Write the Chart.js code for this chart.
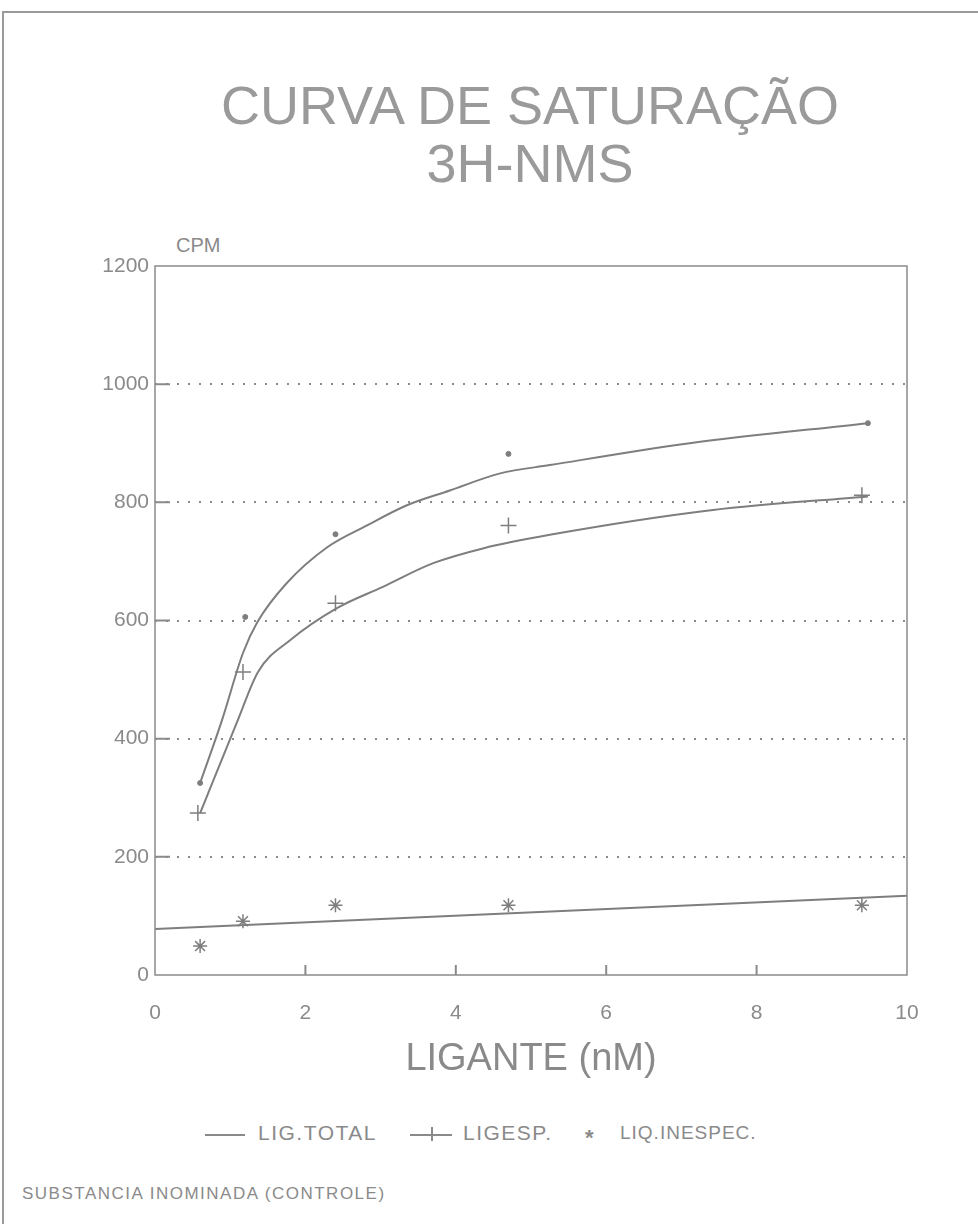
<!DOCTYPE html>
<html>
<head>
<meta charset="utf-8">
<script src="https://cdn.jsdelivr.net/npm/chart.js@4.4.0/dist/chart.umd.min.js"></script>
<style>
  body { margin: 0; background: #fff; font-family: 'Liberation Sans', Arial, sans-serif; color: #8a8a8a; }
  #page { position: relative; width: 978px; height: 1226px; overflow: hidden; }
  #frame { position: absolute; left: 2px; top: 11px; width: 990px; height: 1211px; border-left: 2px solid #9a9a9a; border-top: 2px solid #9a9a9a; }
  #title { position: absolute; left: 130px; width: 800px; top: 76px; text-align: center; font-size: 54px; line-height: 58px; color: #9a9a9a; }
  #cpm { position: absolute; left: 176px; top: 234px; font-size: 20px; color: #8a8a8a; }
  #plot-id { position: absolute; left: 0; top: 0; }
  #legend { position: absolute; top: 1121px; left: 0; width: 978px; font-size: 21px; color: #8a8a8a; }
  #legend span { position: absolute; white-space: nowrap; letter-spacing: 1.5px; }
  .sample { position: absolute; height: 0; border-top: 2px solid #8a8a8a; }
  #footer { position: absolute; left: 22px; top: 1184px; font-size: 17px; letter-spacing: 1.5px; color: #8a8a8a; }
</style>
</head>
<body>
<div id="page">
  <div id="frame"></div>
  <div id="title">CURVA DE SATURAÇÃO<br>3H-NMS</div>
  <div id="cpm">CPM</div>
  <canvas id="plot-id" width="978" height="1084"></canvas>
  <div id="legend">
    <div class="sample" style="left:205px; width:40px; top:13px;"></div>
    <span style="left:258px;">LIG.TOTAL</span>
    <div class="sample" style="left:410px; width:42px; top:13px;"></div>
    <div class="sample" style="left:431px; width:0; height:14px; top:6px; border-top:none; border-left:2px solid #8a8a8a;"></div>
    <span style="left:463px;">LIGESP.</span>
    <span style="left:585px; font-size:22px; top:4px; font-weight:bold;">*</span>
    <span style="left:620px; letter-spacing:1px; font-size:19px; top:1px;">LIQ.INESPEC.</span>
  </div>
  <div id="footer">SUBSTANCIA INOMINADA (CONTROLE)</div>
</div>
<script>
// measured points
let total_x = [0.6, 1.2, 2.4, 4.7, 9.48];
let total_y = [325, 606, 746, 882, 934];
let esp_x = [0.57, 1.17, 2.4, 4.7, 9.4];
let esp_y = [274, 513, 629, 761, 812];
let inesp_x = [0.6, 1.17, 2.4, 4.7, 9.4];
let inesp_y = [49, 91, 118, 118, 118];
// fitted curves
let total_curve_x = [0.6, 0.89, 1.17, 1.36, 1.75, 2.29, 2.82, 3.35, 3.92, 4.59, 5.25, 7.11, 9.48];
let total_curve_y = [325, 431, 545, 597, 663, 724, 761, 795, 820, 849, 863, 900, 934];
let esp_curve_x = [0.6, 1.1, 1.37, 1.8, 2.42, 3.03, 3.7, 4.36, 5.25, 7.42, 9.48];
let esp_curve_y = [274, 431, 513, 567, 621, 657, 697, 722, 745, 787, 810];
let inesp_line_x = [0, 10];
let inesp_line_y = [78, 134];
// axes
let x_ticks = [0, 2, 4, 6, 8, 10];
let y_ticks = [0, 200, 400, 600, 800, 1000, 1200];

const gray = '#7e7e7e';
function pts(xs, ys) {
    let out = [];
    for (let i = 0; i < xs.length; i++) out.push({ x: xs[i], y: ys[i] });
    return out;
}

// plot frame and the little inner ticks
const framePlugin = {
    id: 'frame',
    afterDraw(chart) {
        const { ctx, chartArea: a, scales } = chart;
        ctx.save();
        ctx.strokeStyle = '#8a8a8a';
        ctx.lineWidth = 1.5;
        ctx.strokeRect(a.left, a.top, a.right - a.left, a.bottom - a.top);
        ctx.lineWidth = 2;
        ctx.beginPath();
        y_ticks.slice(1, -1).forEach(v => {
            const y = scales.y.getPixelForValue(v);
            ctx.moveTo(a.left, y); ctx.lineTo(a.left + 15, y);
        });
        x_ticks.slice(1, -1).forEach(v => {
            const x = scales.x.getPixelForValue(v);
            ctx.moveTo(x, a.bottom); ctx.lineTo(x, a.bottom - 10);
        });
        ctx.stroke();
        ctx.restore();
    }
};

var ctx = document.getElementById('plot-id');
var chart = new Chart(ctx, {
    type: 'scatter',
    data: {
        datasets: [
            { label: 'LIG.TOTAL curva', data: pts(total_curve_x, total_curve_y), showLine: true, borderColor: gray, borderWidth: 2, pointRadius: 0, cubicInterpolationMode: 'monotone' },
            { label: 'LIG.TOTAL', data: pts(total_x, total_y), pointStyle: 'circle', pointRadius: 2.5, backgroundColor: gray, borderColor: gray },
            { label: 'LIGESP. curva', data: pts(esp_curve_x, esp_curve_y), showLine: true, borderColor: gray, borderWidth: 2, pointRadius: 0, cubicInterpolationMode: 'monotone' },
            { label: 'LIGESP.', data: pts(esp_x, esp_y), pointStyle: 'cross', pointRadius: 8, borderWidth: 1.5, borderColor: gray },
            { label: 'LIQ.INESPEC. reta', data: pts(inesp_line_x, inesp_line_y), showLine: true, borderColor: gray, borderWidth: 2, pointRadius: 0 },
            { label: 'LIQ.INESPEC.', data: pts(inesp_x, inesp_y), pointStyle: 'star', pointRadius: 7, borderWidth: 1.5, borderColor: gray }
        ]
    },
    options: {
        responsive: false,
        animation: false,
        layout: { padding: { left: 0, right: 71, top: 266, bottom: 0 } },
        scales: {
            x: {
                type: 'linear', min: 0, max: 10,
                afterFit: s => { s.height = 109; },
                afterBuildTicks: s => { s.ticks = x_ticks.map(v => ({ value: v })); },
                grid: { display: false, drawTicks: false },
                border: { display: false },
                ticks: { padding: 26, color: '#8a8a8a', font: { family: 'Liberation Sans', size: 21 } },
                title: { display: true, text: 'LIGANTE (nM)', color: '#8a8a8a', padding: { top: 0, bottom: 2 }, font: { family: 'Liberation Sans', size: 38 } }
            },
            y: {
                type: 'linear', min: 0, max: 1200,
                afterFit: s => { s.width = 155; },
                afterBuildTicks: s => { s.ticks = y_ticks.map(v => ({ value: v })); },
                grid: {
                    drawTicks: false,
                    lineWidth: 2,
                    color: c => (c.tick && (c.tick.value === 0 || c.tick.value === 1200)) ? 'rgba(0,0,0,0)' : '#8a8a8a'
                },
                border: { display: false, dash: [2, 9] },
                ticks: {
                    padding: 6, color: '#8a8a8a', font: { family: 'Liberation Sans', size: 21 },
                    callback: v => String(v)
                }
            }
        },
        plugins: {
            legend: { display: false },
            tooltip: { enabled: false }
        }
    },
    plugins: [framePlugin]
});
</script>
</body>
</html>
